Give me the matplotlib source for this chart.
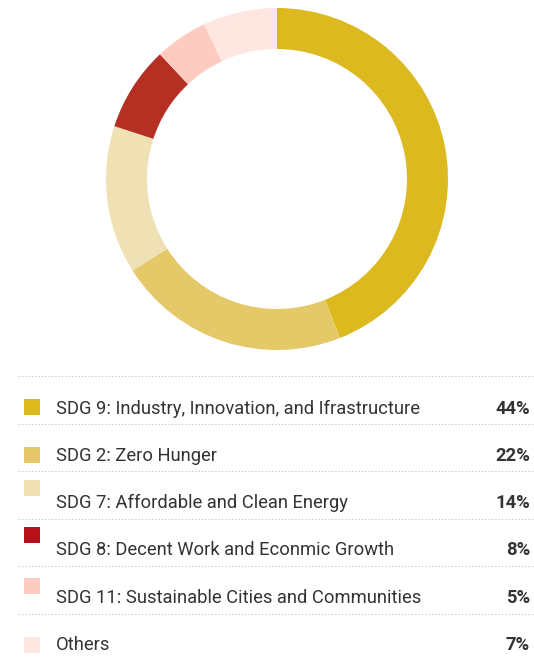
import matplotlib.pyplot as plt
from matplotlib.patches import Rectangle

plt.rcParams['font.family'] = ['Roboto', 'DejaVu Sans']

# SDG share of the portfolio
labels = [
    "SDG 9: Industry, Innovation, and Ifrastructure",
    "SDG 2: Zero Hunger",
    "SDG 7: Affordable and Clean Energy",
    "SDG 8: Decent Work and Econmic Growth",
    "SDG 11: Sustainable Cities and Communities",
    "Others",
]
shares = [44, 22, 14, 8, 5, 7]
ring_colors = ["#DBB91F", "#E5C867", "#F0E1B4", "#B53022", "#FDCBBF", "#FEE7E0"]
swatch_colors = ["#DBB91F", "#E5C867", "#F0E1B4", "#B5121B", "#FDCBBF", "#FEE7E0"]

W, H = 534, 659
fig = plt.figure(figsize=(W / 100, H / 100), dpi=100)

# donut
cx, cy, r_out, r_in = 277, 179, 171, 130
ax = fig.add_axes([(cx - r_out) / W, (H - cy - r_out) / H, 2 * r_out / W, 2 * r_out / H])
ax.pie(shares, colors=ring_colors, startangle=90, counterclock=False,
       wedgeprops=dict(width=(r_out - r_in) / r_out, linewidth=0))
ax.set_xlim(-1, 1)
ax.set_ylim(-1, 1)
ax.set_aspect('auto')
ax.axis('off')

# legend table, drawn in pixel coordinates
lg = fig.add_axes([0, 0, 1, 1])
lg.set_xlim(0, W)
lg.set_ylim(H, 0)
lg.axis('off')

rule_y = [376, 423.5, 471, 518.5, 566, 613.5]
text_y = [409, 456, 503, 550, 598, 645]
swatch_top = [399, 447, 480, 527, 578, 637]

for y in rule_y:
    lg.plot([18, W], [y, y], color="#c8c8c8", lw=0.8, linestyle=(0, (1.2, 1.8)))

for i, lab in enumerate(labels):
    lg.add_patch(Rectangle((24, swatch_top[i]), 16, 16, color=swatch_colors[i], lw=0))
    lg.text(56, text_y[i], lab, fontsize=13.2, color="#333333", va='center', ha='left')
    lg.text(530, text_y[i], f"{shares[i]}%", fontsize=13.2, color="#333333",
            va='center', ha='right', fontweight='bold')

fig.savefig("out.png", dpi=100)
